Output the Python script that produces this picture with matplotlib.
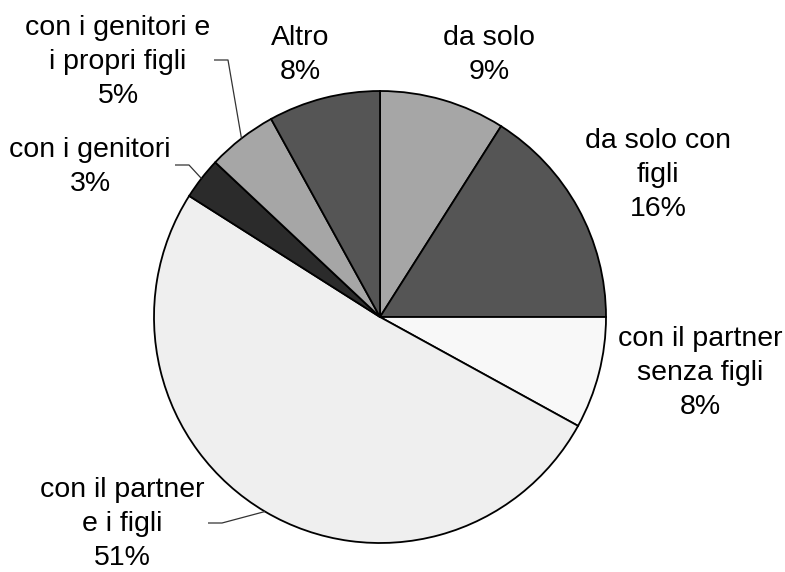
import numpy as np
import matplotlib
matplotlib.use("Agg")
import matplotlib.pyplot as plt

# data, clockwise from 12 o'clock
labels = ["da solo", "da solo con\nfigli", "con il partner\nsenza figli",
          "con il partner\ne i figli", "con i genitori",
          "con i genitori e\ni propri figli", "Altro"]
values = [9, 16, 8, 51, 3, 5, 8]
colors = ["#a6a6a6", "#555555", "#f8f8f8", "#efefef", "#2b2b2b", "#a6a6a6", "#555555"]

# label placement (pixels in the 785x572 figure, text centre)
label_px = [(489, 55), (658, 175), (700, 373), (122, 524), (90, 167), (118, 62), (300, 55)]
# elbow of leader line (pixels): start of horizontal stub, bend point
leaders = {3: ((208, 523), (222, 523)),
           4: ((175, 165), (189, 165)),
           5: ((214, 60), (228, 60))}

W, H = 785, 572
CX, CY, R = 380, 317, 226

plt.rcParams["font.family"] = ["Liberation Sans", "DejaVu Sans"]

fig = plt.figure(figsize=(W / 100, H / 100), dpi=100)
ax = fig.add_axes([0, 0, 1, 1])

wedges, _ = ax.pie(values, colors=colors, startangle=90, counterclock=False,
                   radius=1, wedgeprops=dict(edgecolor="black", linewidth=1.3))

ax.set_xlim(-CX / R, (W - CX) / R)
ax.set_ylim(-(H - CY) / R, CY / R)
ax.set_aspect("auto")
ax.axis("off")


def px2d(p):
    return ((p[0] - CX) / R, (CY - p[1]) / R)


for i, (lab, v) in enumerate(zip(labels, values)):
    x, y = px2d(label_px[i])
    ax.text(x, y, f"{lab}\n{v}%", ha="center", va="center", fontsize=20.5,
            linespacing=1.4, color="black")

for i, (p0, p1) in leaders.items():
    w = wedges[i]
    mid = np.deg2rad((w.theta1 + w.theta2) / 2)
    ex, ey = np.cos(mid), np.sin(mid)
    a = px2d(p0)
    b = px2d(p1)
    ax.plot([a[0], b[0], ex], [a[1], b[1], ey], color="#333333", lw=0.9,
            solid_capstyle="butt")

fig.savefig("out.png", dpi=100, facecolor="white")
